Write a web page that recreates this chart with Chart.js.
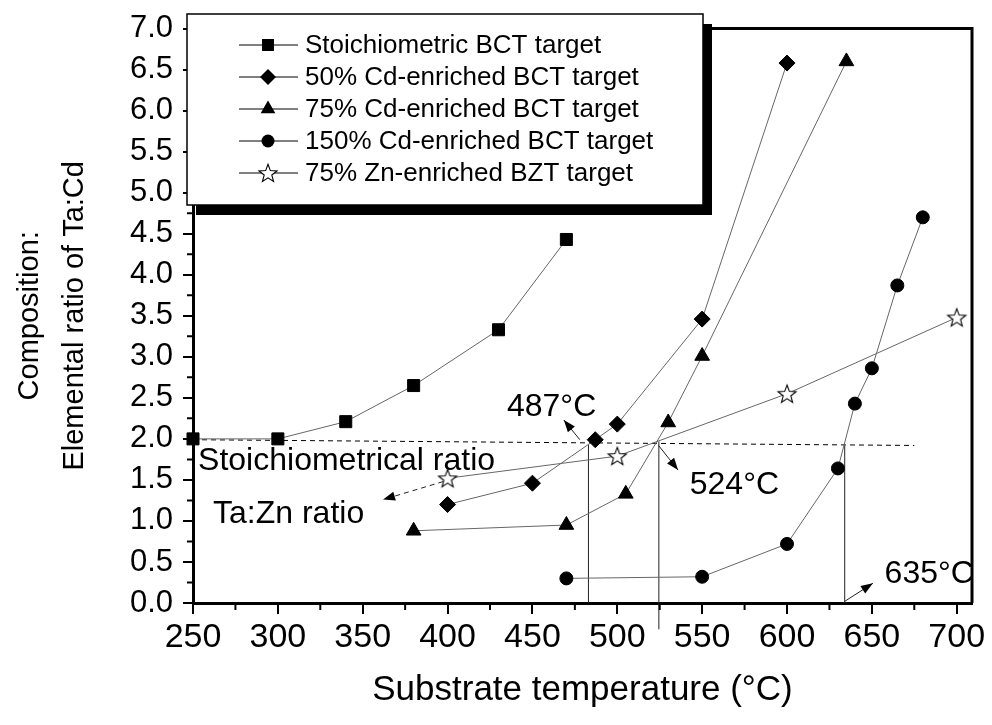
<!DOCTYPE html>
<html>
<head>
<meta charset="utf-8">
<script src="https://cdn.jsdelivr.net/npm/chart.js@4.4.1/dist/chart.umd.min.js"></script>
<style>
  body { margin: 0; background: #fff; }
  #chart { display: block; }
</style>
</head>
<body>
<canvas id="chart" width="992" height="725"></canvas>
<script>
// values
const seriesNames = [
  "Stoichiometric BCT target",
  "50% Cd-enriched BCT target",
  "75% Cd-enriched BCT target",
  "150% Cd-enriched BCT target",
  "75% Zn-enriched BZT target"
];
const stoichTemp = [250, 300, 340, 380, 430, 470];
const stoichRatio = [2.0, 2.0, 2.21, 2.65, 3.33, 4.43];
const cd50Temp = [400, 450, 487, 500, 550, 600];
const cd50Ratio = [1.2, 1.46, 1.99, 2.18, 3.46, 6.58];
const cd75Temp = [380, 470, 505, 530, 550, 635];
const cd75Ratio = [0.88, 0.95, 1.33, 2.2, 3.01, 6.6];
const cd150Temp = [470, 550, 600, 630, 640, 650, 665, 680];
const cd150Ratio = [0.3, 0.32, 0.72, 1.64, 2.43, 2.86, 3.87, 4.7];
const zn75Temp = [400, 500, 600, 700];
const zn75Ratio = [1.52, 1.79, 2.55, 3.48];

const xTicks = [250, 300, 350, 400, 450, 500, 550, 600, 650, 700];
const yTicks = [0, 0.5, 1, 1.5, 2, 2.5, 3, 3.5, 4, 4.5, 5, 5.5, 6, 6.5, 7];

// guide lines: stoichiometric ratio and the three crossing temperatures
const refLineTemp = [250, 675];
const refLineRatio = [1.99, 1.92];
const dropTemp = [483, 524.5, 634];
const dropTop = [1.93, 1.97, 1.92];
const dropBottom = [0, -0.32, 0];

const FONT = "'Liberation Sans', Arial, sans-serif";

function pts(xs, ys) {
  return xs.map((x, i) => ({ x: x, y: ys[i] }));
}

// open five-point star used as marker
function makeStar(size) {
  const c = document.createElement("canvas");
  c.width = c.height = size;
  const g = c.getContext("2d");
  const cx = size / 2, cy = size / 2 + 0.8, R = size / 2 - 1.5, r = R * 0.42;
  g.beginPath();
  for (let i = 0; i < 10; i++) {
    const a = -Math.PI / 2 + i * Math.PI / 5;
    const rr = i % 2 ? r : R;
    g.lineTo(cx + rr * Math.cos(a), cy + rr * Math.sin(a));
  }
  g.closePath();
  g.fillStyle = "#fff";
  g.fill();
  g.strokeStyle = "#000";
  g.lineWidth = 1.1;
  g.stroke();
  return c;
}
const starImg = makeStar(22);

const markerStyles = ["rect", "rectRot", "triangle", "circle", starImg];
const markerSizes = [8.5, 8, 8.5, 6.5, 8];
const seriesTemps = [stoichTemp, cd50Temp, cd75Temp, cd150Temp, zn75Temp];
const seriesRatios = [stoichRatio, cd50Ratio, cd75Ratio, cd150Ratio, zn75Ratio];

const datasets = seriesNames.map((name, i) => ({
  label: name,
  data: pts(seriesTemps[i], seriesRatios[i]),
  borderColor: "#666",
  borderWidth: 1,
  pointStyle: markerStyles[i],
  pointRadius: markerSizes[i],
  pointBackgroundColor: "#000",
  pointBorderColor: "#000",
  pointBorderWidth: 1,
  clip: false,
  order: 1
}));

datasets.push({
  label: "Stoichiometrical ratio",
  data: pts(refLineTemp, refLineRatio),
  borderColor: "#000",
  borderWidth: 1,
  borderDash: [5, 4],
  pointRadius: 0,
  clip: false,
  order: 10
});
dropTemp.forEach((t, i) => {
  datasets.push({
    label: "drop " + t,
    data: [{ x: t, y: dropBottom[i] }, { x: t, y: dropTop[i] }],
    borderColor: "#222",
    borderWidth: 1,
    pointRadius: 0,
    clip: false,
    order: 10
  });
});

// text notes and arrows, placed in data coordinates
const notes = [
  { text: "487°C", x: 435, y: 2.28 },
  { text: "524°C", x: 542.7, y: 1.33 },
  { text: "635°C", x: 657.5, y: 0.24 },
  { text: "Stoichiometrical ratio", x: 253, y: 1.62 },
  { text: "Ta:Zn ratio", x: 261.8, y: 0.97 }
];
const arrows = [
  { from: [477.9, 1.99], to: [468.5, 2.23] },
  { from: [524.3, 1.92], to: [535.8, 1.62] },
  { from: [634, 0.02], to: [650.6, 0.24] },
  { from: [397.4, 1.48], to: [362, 1.26], dash: [5, 4] }
];

function drawMarker(ctx, style, x, y, r) {
  if (typeof style !== "string") {
    ctx.drawImage(style, x - style.width / 2, y - style.height / 2);
    return;
  }
  ctx.beginPath();
  if (style === "rect") {
    const s = r * Math.SQRT1_2;
    ctx.rect(x - s, y - s, 2 * s, 2 * s);
  } else if (style === "rectRot") {
    ctx.moveTo(x, y - r); ctx.lineTo(x + r, y); ctx.lineTo(x, y + r); ctx.lineTo(x - r, y);
    ctx.closePath();
  } else if (style === "triangle") {
    for (let k = 0; k < 3; k++) {
      const a = k * 2 * Math.PI / 3;
      ctx.lineTo(x + Math.sin(a) * r, y - Math.cos(a) * r);
    }
    ctx.closePath();
  } else {
    ctx.arc(x, y, r, 0, Math.PI * 2);
  }
  ctx.fillStyle = "#000";
  ctx.fill();
}

function arrowHead(ctx, x1, y1, x2, y2) {
  const a = Math.atan2(y2 - y1, x2 - x1);
  const len = 12, w = 4.5;
  ctx.beginPath();
  ctx.moveTo(x2, y2);
  ctx.lineTo(x2 - len * Math.cos(a) + w * Math.sin(a), y2 - len * Math.sin(a) - w * Math.cos(a));
  ctx.lineTo(x2 - len * Math.cos(a) - w * Math.sin(a), y2 - len * Math.sin(a) + w * Math.cos(a));
  ctx.closePath();
  ctx.fill();
}

const extras = {
  id: "extras",
  afterDraw(chart) {
    const ctx = chart.ctx;
    const xs = chart.scales.x, ys = chart.scales.y;
    const a = chart.chartArea;
    ctx.save();

    // top and right frame
    ctx.strokeStyle = "#000";
    ctx.lineWidth = 3;
    ctx.beginPath();
    ctx.moveTo(a.left, a.top);
    ctx.lineTo(a.right, a.top);
    ctx.lineTo(a.right, a.bottom);
    ctx.stroke();

    // minor ticks
    ctx.lineWidth = 2;
    ctx.beginPath();
    xTicks.slice(1).forEach((v, i) => {
      const px = xs.getPixelForValue((v + xTicks[i]) / 2);
      ctx.moveTo(px, a.bottom);
      ctx.lineTo(px, a.bottom + 7);
    });
    yTicks.slice(1).forEach((v, i) => {
      const py = ys.getPixelForValue((v + yTicks[i]) / 2);
      ctx.moveTo(a.left, py);
      ctx.lineTo(a.left - 6, py);
    });
    ctx.stroke();

    // arrows
    ctx.fillStyle = "#000";
    ctx.strokeStyle = "#222";
    ctx.lineWidth = 1;
    arrows.forEach(ar => {
      const x1 = xs.getPixelForValue(ar.from[0]), y1 = ys.getPixelForValue(ar.from[1]);
      const x2 = xs.getPixelForValue(ar.to[0]), y2 = ys.getPixelForValue(ar.to[1]);
      ctx.setLineDash(ar.dash || []);
      ctx.beginPath();
      ctx.moveTo(x1, y1);
      ctx.lineTo(x2, y2);
      ctx.stroke();
      ctx.setLineDash([]);
      arrowHead(ctx, x1, y1, x2, y2);
    });

    // notes
    ctx.font = "32px " + FONT;
    ctx.textBaseline = "alphabetic";
    ctx.textAlign = "left";
    notes.forEach(n => {
      ctx.fillText(n.text, xs.getPixelForValue(n.x), ys.getPixelForValue(n.y));
    });

    // legend box with shadow
    const bx = a.left - 6, by = 14, bw = 516, bh = 191;
    ctx.fillStyle = "#000";
    ctx.fillRect(bx + 9, by + 10, bw, bh);
    ctx.fillStyle = "#fff";
    ctx.fillRect(bx, by, bw, bh);
    ctx.strokeStyle = "#000";
    ctx.lineWidth = 1.5;
    ctx.strokeRect(bx, by, bw, bh);

    ctx.font = "26px " + FONT;
    ctx.textBaseline = "middle";
    seriesNames.forEach((name, i) => {
      const ry = by + 31 + i * 32;
      ctx.strokeStyle = "#000";
      ctx.lineWidth = 1;
      ctx.beginPath();
      ctx.moveTo(bx + 52, ry);
      ctx.lineTo(bx + 111, ry);
      ctx.stroke();
      drawMarker(ctx, markerStyles[i], bx + 81, ry, markerSizes[i]);
      ctx.fillStyle = "#000";
      ctx.fillText(name, bx + 118, ry + 1);
    });

    ctx.restore();
  }
};

new Chart(document.getElementById("chart"), {
  type: "line",
  data: { datasets: datasets },
  options: {
    responsive: false,
    animation: false,
    events: [],
    layout: { padding: { top: 20, right: 20, left: 0, bottom: 0 } },
    plugins: { legend: { display: false }, tooltip: { enabled: false } },
    scales: {
      x: {
        type: "linear",
        min: 250,
        max: 709,
        afterBuildTicks: s => { s.ticks = xTicks.map(v => ({ value: v })); },
        afterFit: s => { s.height = 122; },
        ticks: { font: { family: FONT, size: 34 }, color: "#000", padding: 3, maxRotation: 0 },
        grid: { drawOnChartArea: false, color: "#000", lineWidth: 2, tickLength: 11 },
        border: { color: "#000", width: 3 },
        title: {
          display: true,
          text: "Substrate temperature (°C)",
          font: { family: FONT, size: 35 },
          color: "#000",
          padding: { top: 0, bottom: 14 }
        }
      },
      y: {
        type: "linear",
        min: 0,
        max: 7,
        afterBuildTicks: s => { s.ticks = yTicks.map(v => ({ value: v })); },
        afterFit: s => { s.width = 193; },
        ticks: {
          font: { family: FONT, size: 31 },
          color: "#000",
          padding: 10,
          callback: v => v.toFixed(1)
        },
        grid: { drawOnChartArea: false, color: "#000", lineWidth: 2, tickLength: 10 },
        border: { color: "#000", width: 3 },
        title: {
          display: true,
          text: ["Composition:", "Elemental ratio of Ta:Cd"],
          font: { family: FONT, size: 29, lineHeight: 1.55 },
          color: "#000",
          padding: { top: 8, bottom: 0 }
        }
      }
    }
  },
  plugins: [extras]
});
</script>
</body>
</html>
